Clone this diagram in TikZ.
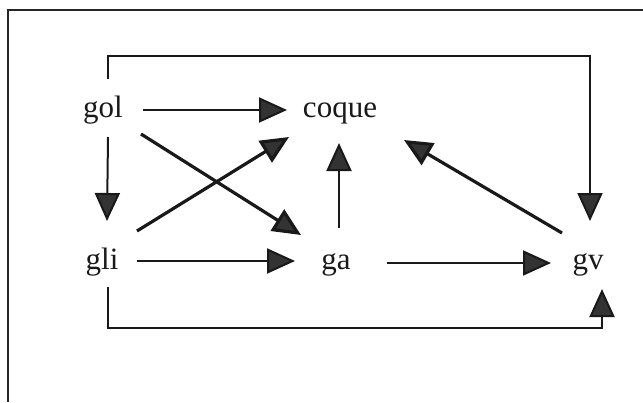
\documentclass[tikz,border=0pt]{standalone}
\usepackage{fontspec}
\setmainfont{Liberation Serif}
\usetikzlibrary{arrows.meta}
\begin{document}
\begin{tikzpicture}[x=1pt,y=-1pt,
  lbl/.style={anchor=base,inner sep=0pt,font=\fontsize{31}{36}\selectfont,text=black!90},
  arr/.style={draw=black!90,line width=2pt,-{Triangle[length=28pt,width=25pt,fill=black!80]}},
  thick arr/.style={arr,line width=3.2pt},
  frame/.style={draw=black!85,line width=1.6pt}]
\useasboundingbox (0,0) rectangle (643,402);
\draw[frame] (8,402) -- (8,10) -- (643,10);
\node[lbl] (gol) at (103,117) {gol};
\node[lbl] (coque) at (340,117) {coque};
\node[lbl] (gli) at (102,269) {gli};
\node[lbl] (ga) at (336,269) {ga};
\node[lbl] (gv) at (588,269) {gv};
% straight connectors
\draw[arr] ([shift={(40,-7)}]gol.base) -- ([shift={(-53,-7)}]coque.base);
\draw[arr] ([shift={(5,20)}]gol.base) -- ([shift={(5,-48)}]gli.base);
\draw[thick arr] ([shift={(38,17)}]gol.base) -- ([shift={(-35,-34)}]ga.base);
\draw[thick arr] ([shift={(35,-38)}]gli.base) -- ([shift={(-51,20)}]coque.base);
\draw[arr] ([shift={(3,-41)}]ga.base) -- ([shift={(-1,26)}]coque.base);
\draw[thick arr] ([shift={(-26,-36)}]gv.base) -- ([shift={(64,23)}]coque.base);
\draw[arr] ([shift={(35,-8)}]gli.base) -- ([shift={(-41,-8)}]ga.base);
\draw[arr] ([shift={(51,-6)}]ga.base) -- ([shift={(-37,-6)}]gv.base);
% loops
\draw[arr] ([shift={(5,-38)}]gol.base) -- ++(0,-23) -| ([shift={(2,-48)}]gv.base);
\draw[arr] ([shift={(6,18)}]gli.base) -- ++(0,41) -| ([shift={(14,20)}]gv.base);
\end{tikzpicture}
\end{document}
